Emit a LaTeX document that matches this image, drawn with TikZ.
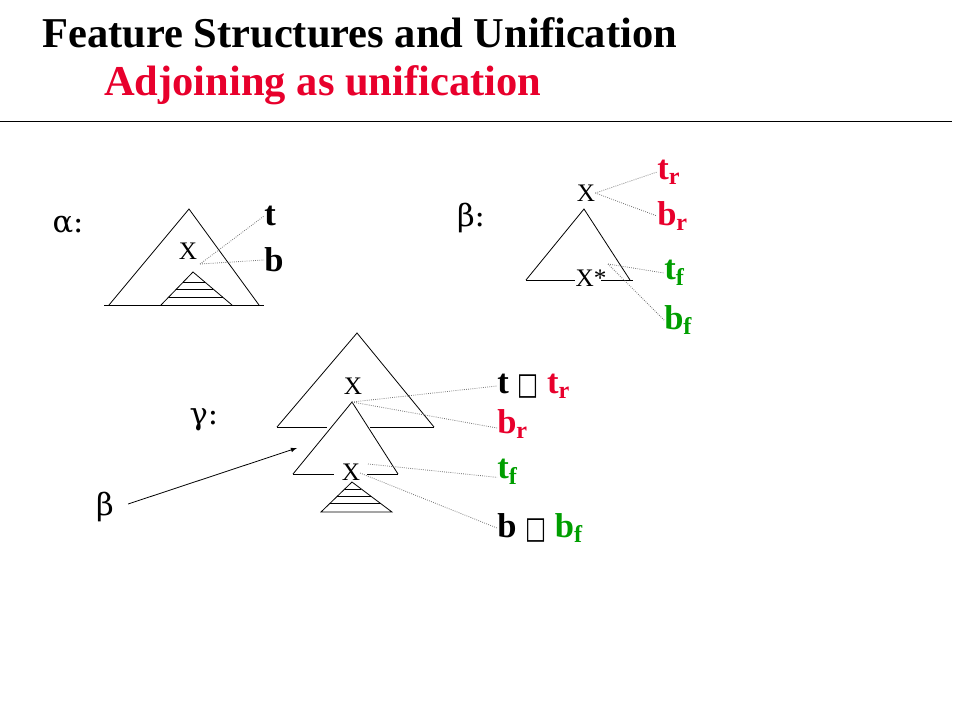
\documentclass[tikz,border=0pt]{standalone}
\usepackage{fontspec}
\setmainfont{Liberation Serif}
\newfontfamily\boxfont{DejaVu Sans}
\newfontfamily\greekfont{DejaVu Serif}
\usetikzlibrary{calc}
\definecolor{slred}{RGB}{232,0,44}
\definecolor{slgreen}{RGB}{0,158,0}
\newcommand{\uni}{{\boxfont\fontsize{21}{21}\selectfont\mdseries\raisebox{-1pt}{\scalebox{0.8}[1.1]{□}}}}

\begin{document}
\begin{tikzpicture}[x=0.75bp,y=-0.75bp,
  feat/.style={black!55,densely dotted,line width=0.6pt},
  tri/.style={line width=0.6pt},
  lab/.style={font=\fontsize{26}{26}\selectfont\bfseries,inner sep=0pt,anchor=west},
  sym/.style={font=\greekfont\fontsize{23}{23}\selectfont,inner sep=0pt},
  cat/.style={font=\fontsize{19}{19}\selectfont,inner sep=0pt}]
  \useasboundingbox (0,0) rectangle (960,720);
  % heading
  \node[anchor=base west,inner sep=0pt,font=\fontsize{32}{32}\selectfont\bfseries] (title) at (42,47) {Feature Structures and Unification};
  \node[anchor=base west,inner sep=0pt,text=slred,font=\fontsize{32}{32}\selectfont\bfseries] (subtitle) at (104,95) {Adjoining as unification};
  \draw[line width=0.6pt] (0,121) -- (952,121);

  % alpha
  \node[sym] (alpha) at (68,225) {α:};
  \coordinate (aTop) at (189,209);
  \draw[tri] (109,305) -- (aTop) -- (259,305);
  \draw[tri] (104,305) -- (264,305);
  \node[cat] (aX) at (188,251) {X};
  \coordinate (aS) at (193,272);
  \coordinate (aSL) at (161,305);
  \coordinate (aSR) at (232,305);
  \draw[tri] (aSL) -- (aS) -- (aSR);
  \foreach \f in {0.3,0.52,0.76}
    \draw[tri] ($(aS)!\f!(aSL)$) -- ($(aS)!\f!(aSR)$);
  \coordinate (aF) at (200,264);
  \node[lab] (at) at (264,216) {t};
  \node[lab] (ab) at (264,260) {b};
  \draw[feat] (aF) -- (at.west);
  \draw[feat] (aF) -- (ab.west);

  % beta
  \node[sym] (beta) at (471,218) {β:};
  \node[cat] (bX) at (586,193) {X};
  \coordinate (bTop) at (584,209);
  \draw[tri] (526,280) -- (bTop) -- (630,280);
  \node[cat] (bXs) at (591,278) {X*};
  \draw[tri] (526,280) -- (575,280);
  \draw[tri] (601,280) -- (633,280);
  \node[lab,text=slred] (btr) at (657,172) {t\textsubscript{r}};
  \node[lab,text=slred] (bbr) at (657,216) {b\textsubscript{r}};
  \node[lab,text=slgreen] (btf) at (664,273) {t\textsubscript{f}};
  \node[lab,text=slgreen] (bbf) at (664,320) {b\textsubscript{f}};
  \coordinate (bF) at (608,264);
  \draw[feat] (bX.east) -- (btr.west);
  \draw[feat] (bX.east) -- (bbr.west);
  \draw[feat] (bF) -- (btf.west);
  \draw[feat] (bF) -- (bbf.west);

  % gamma
  \node[sym] (gamma) at (204,420) {γ:};
  \coordinate (gTop) at (357,333);
  \draw[tri] (277,427) -- (gTop) -- (434,427);
  \draw[tri] (277,427) -- (327,427);
  \draw[tri] (370,427) -- (434,427);
  \node[cat] (gX) at (353,386) {X};
  \coordinate (gMid) at (352,402);
  \draw[tri] (293,474) -- (gMid) -- (398,474);
  \draw[tri] (293,474) -- (334,474);
  \draw[tri] (367,474) -- (398,474);
  \node[cat] (gXf) at (351,472) {X};
  \coordinate (gS) at (352,482);
  \coordinate (gSL) at (321,512);
  \coordinate (gSR) at (392,512);
  \draw[tri] (gSL) -- (gS) -- (gSR) -- cycle;
  \foreach \f in {0.23,0.47,0.72}
    \draw[tri] ($(gS)!\f!(gSL)$) -- ($(gS)!\f!(gSR)$);
  \node[lab] (gtop) at (497,386) {t \uni\ \textcolor{slred}{t\textsubscript{r}}};
  \node[lab,text=slred] (gbr) at (497,424) {b\textsubscript{r}};
  \node[lab,text=slgreen] (gtf) at (497,472) {t\textsubscript{f}};
  \node[lab] (gbot) at (497,528) {b \uni\ \textcolor{slgreen}{b\textsubscript{f}}};
  \coordinate (gF) at (368,464);
  \coordinate (gB) at (360,473);
  \draw[feat] (gMid) -- (gtop.west);
  \draw[feat] (gMid) -- ([yshift=-3]gbr.west);
  \draw[feat] (gF) -- ([yshift=-4]gtf.west);
  \draw[feat] (gB) -- (gbot.west);

  % beta adjoined
  \node[sym] (b2) at (105,507) {β};
  \coordinate (bHit) at (297,448);
  \draw[-latex,line width=0.6pt] (b2.east) ++(14,-3) -- (bHit);
\end{tikzpicture}
\end{document}
